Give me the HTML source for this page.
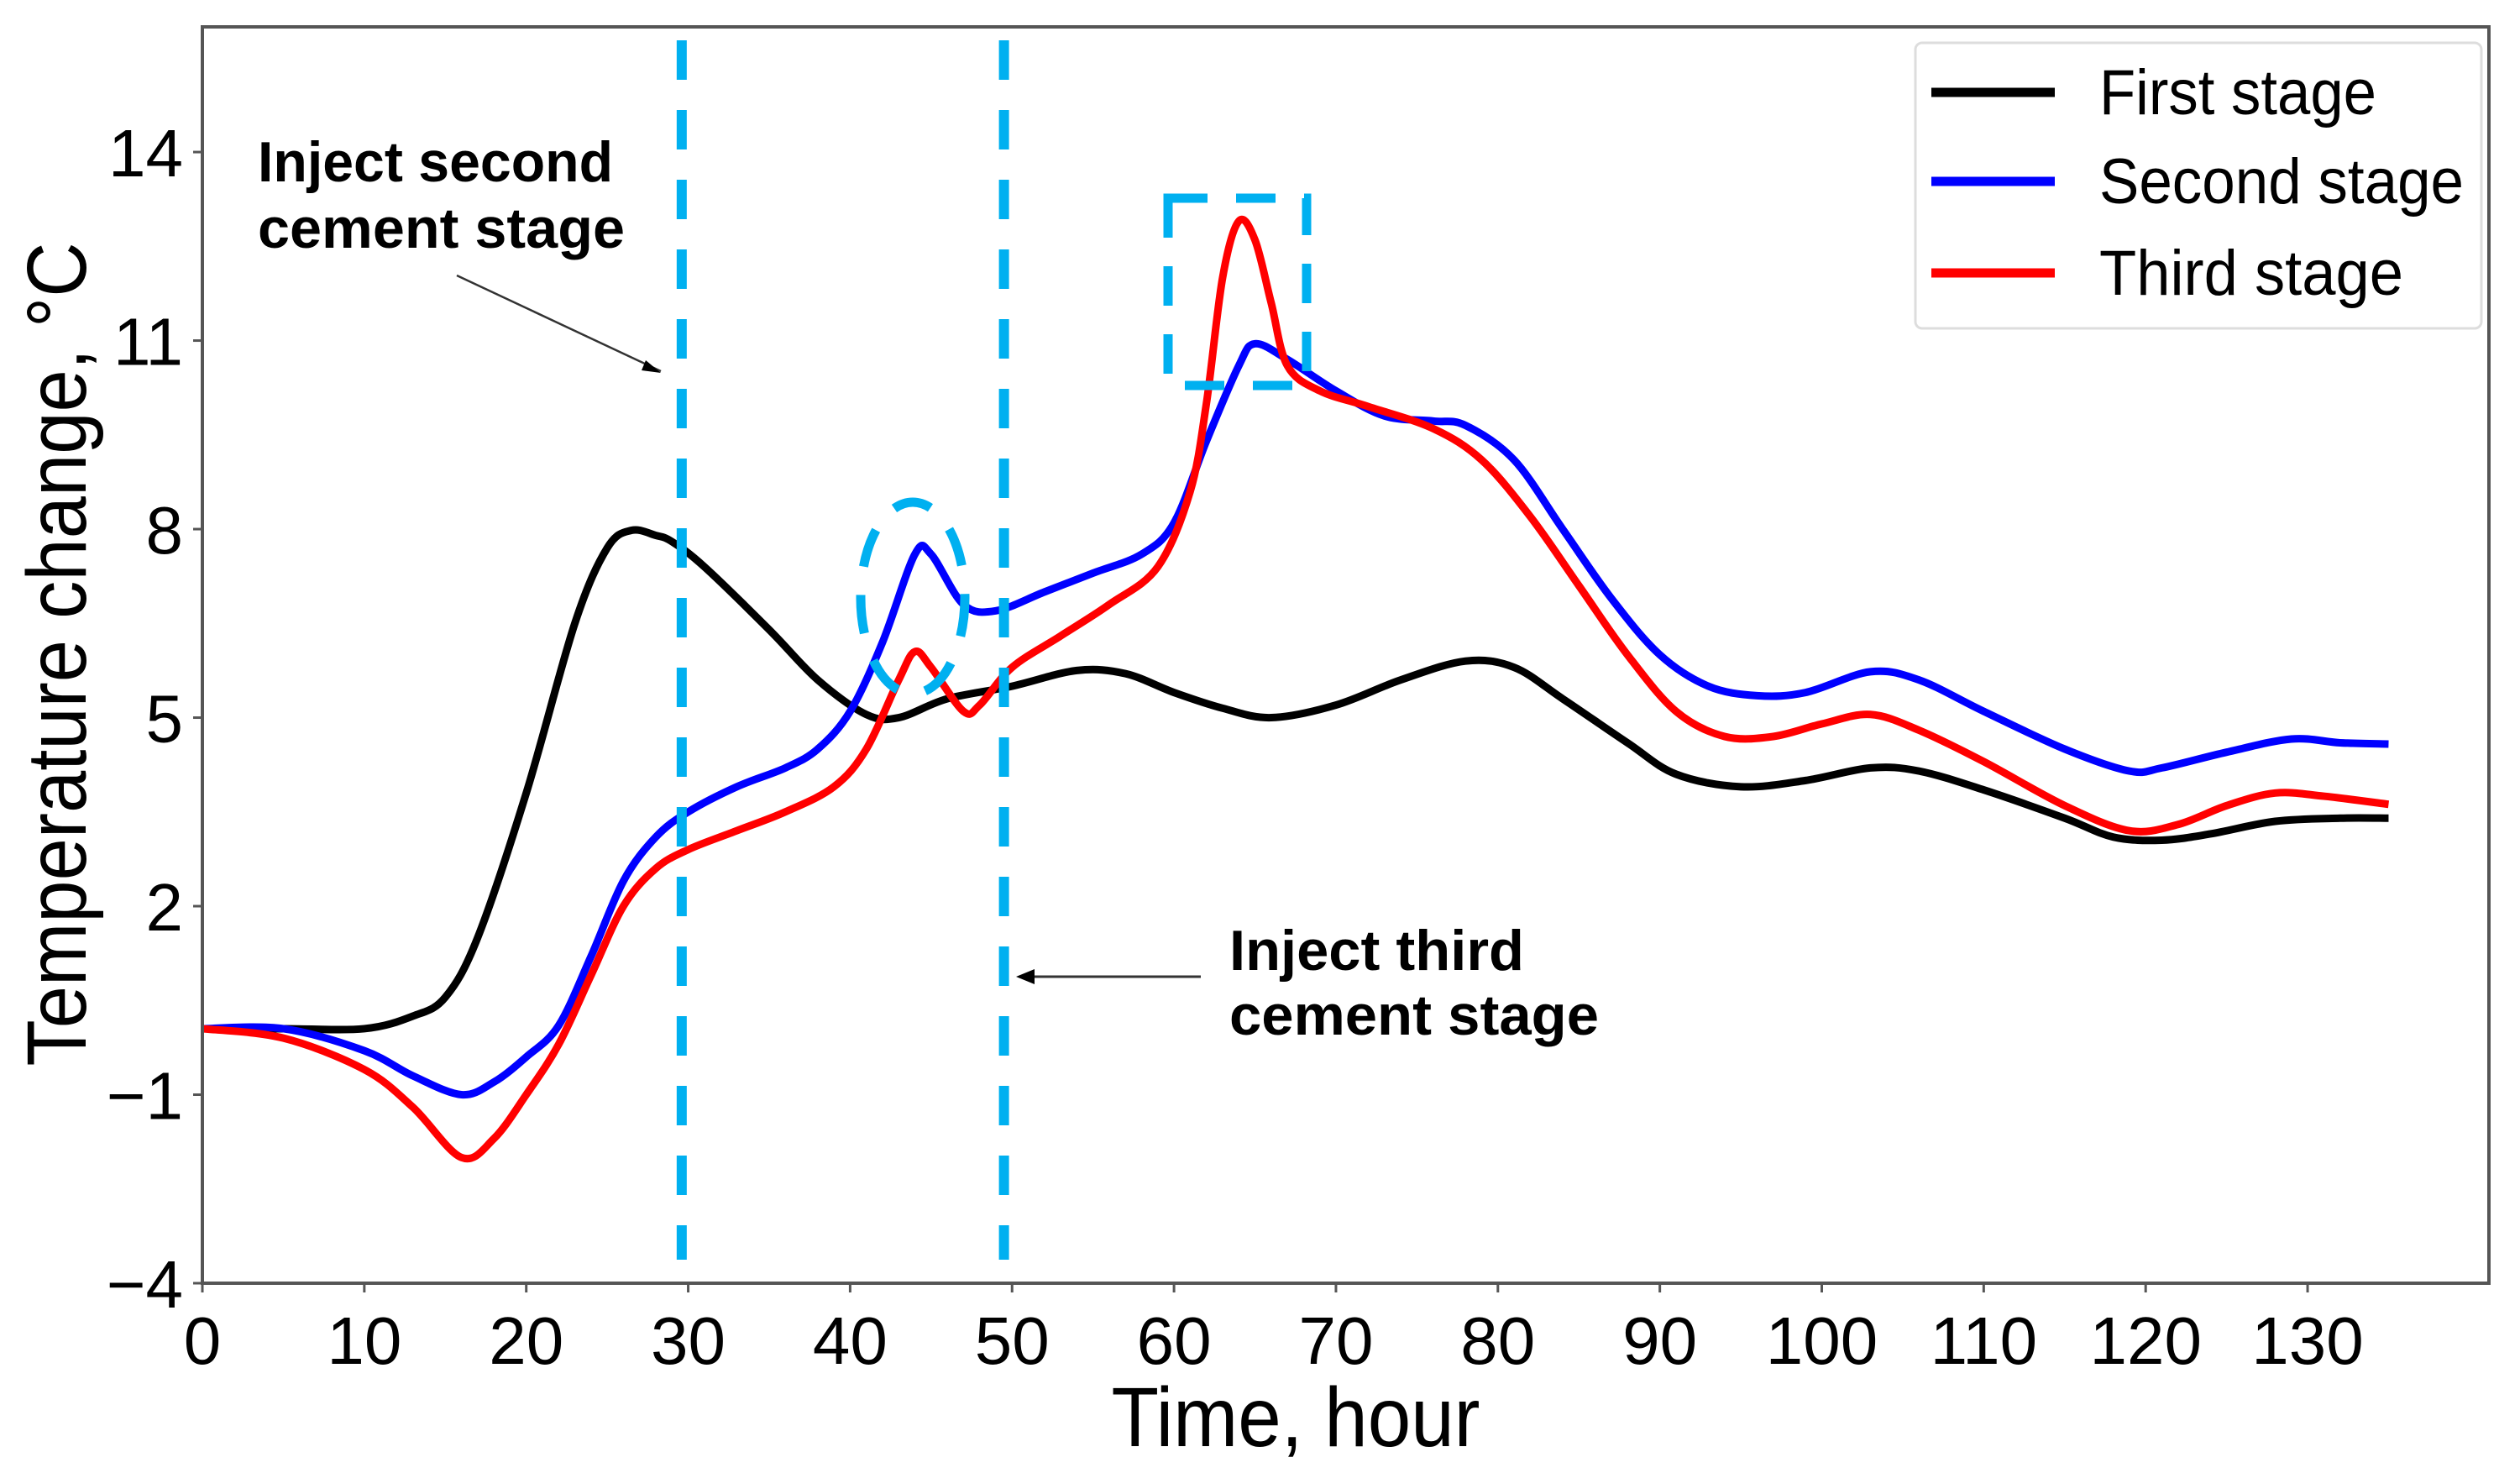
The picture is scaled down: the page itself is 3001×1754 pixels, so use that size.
<!DOCTYPE html>
<html><head><meta charset="utf-8"><style>
html,body{margin:0;padding:0;background:#fff;}
svg{display:block;}
text{font-family:"Liberation Sans",sans-serif;fill:#000;}
</style></head><body>
<svg id="chart" width="3001" height="1754" viewBox="0 0 3001 1754" xmlns="http://www.w3.org/2000/svg">
<g id="plot"></g>
</svg>
<script>
const xTicks=[0,10,20,30,40,50,60,70,80,90,100,110,120,130];
const yTicks=[-4,-1,2,5,8,11,14];
const firstT=[0,5,10,13,15,17,20,23,25,26.5,28,29,31,35,38,41,43,46,50,54,57,60,63,66,70,74,78,81,84,88,91,95,99,103,106,110,115,118,121,124,128,132,135];
const firstV=[0.05,0.05,0.05,0.25,0.55,1.5,3.8,6.5,7.7,7.98,7.9,7.8,7.4,6.4,5.6,5.05,5.0,5.3,5.5,5.75,5.7,5.4,5.15,5.0,5.2,5.6,5.9,5.8,5.3,4.6,4.1,3.9,4.0,4.2,4.15,3.85,3.4,3.1,3.05,3.15,3.35,3.4,3.4];
const secondT=[0,5,10,13,16,18,20,22,24,26,28,30,33,36,38,40,42,44,45,47,49,52,55,58,60,62,64,65,67,70,73,76,78,81,84,87,90,93,96,99,103,106,110,115,119,121,125,129,132,135];
const secondV=[0.05,0.05,-0.3,-0.7,-1.0,-0.8,-0.4,0.1,1.2,2.4,3.1,3.5,3.9,4.2,4.5,5.1,6.2,7.6,7.6,6.8,6.7,7.0,7.3,7.6,8.1,9.4,10.6,10.95,10.7,10.2,9.8,9.72,9.65,9.1,8.0,6.9,6.0,5.5,5.35,5.4,5.73,5.6,5.1,4.5,4.15,4.2,4.45,4.66,4.6,4.58];
const thirdT=[0,5,10,13,16,18,20,22,24,26,28,30,33,36,39,41,43,44,45,47,48,50,53,56,59,61,62,63,64,65,66,67,69,72,76,79,82,85,88,91,94,97,100,103,106,110,115,119,122,125,128,131,135];
const thirdV=[0.05,-0.1,-0.6,-1.2,-2.0,-1.7,-1.0,-0.2,0.9,2.0,2.6,2.9,3.2,3.5,3.9,4.5,5.6,6.05,5.8,5.1,5.2,5.8,6.3,6.8,7.4,8.6,10.0,12.0,12.9,12.6,11.6,10.6,10.2,9.95,9.6,9.1,8.2,7.1,6.0,5.1,4.7,4.7,4.9,5.05,4.8,4.3,3.6,3.2,3.3,3.6,3.8,3.75,3.62];
const vlineX=[29.6,49.5];

const NS="http://www.w3.org/2000/svg";
const svg=document.getElementById('chart');
const L=241,R=2964,T=32,B=1528;
const xs=v=>L+v*19.285;
const ys=v=>1528-(v+4)*74.83;
function mk(tag,attrs,parent){const e=document.createElementNS(NS,tag);for(const k in attrs)e.setAttribute(k,attrs[k]);(parent||svg).appendChild(e);return e;}
function smooth(T,V){const p=T.map((t,i)=>[xs(t),ys(V[i])]);let d='M'+p[0][0]+','+p[0][1];
 for(let i=0;i<p.length-1;i++){const p0=p[Math.max(0,i-1)],p1=p[i],p2=p[i+1],p3=p[Math.min(p.length-1,i+2)];
 const c1=[p1[0]+(p2[0]-p0[0])/6,p1[1]+(p2[1]-p0[1])/6],c2=[p2[0]-(p3[0]-p1[0])/6,p2[1]-(p3[1]-p1[1])/6];
 d+=' C'+c1[0]+','+c1[1]+' '+c2[0]+','+c2[1]+' '+p2[0]+','+p2[1];}return d;}

const s1=mk('path',{d:smooth(firstT,firstV),fill:'none',stroke:'#000','stroke-width':9,'stroke-linejoin':'round'});


const s2=mk('path',{d:smooth(secondT,secondV),fill:'none',stroke:'#0000ff','stroke-width':9,'stroke-linejoin':'round'});


const s3=mk('path',{d:smooth(thirdT,thirdV),fill:'none',stroke:'#ff0000','stroke-width':9,'stroke-linejoin':'round'});



vlineX.forEach((v,i)=>{const l=mk('line',{x1:xs(v),x2:xs(v),y1:48,y2:1500,stroke:'#00b0f0','stroke-width':12,'stroke-dasharray':'47 36'});

});

const el=mk('ellipse',{cx:1087,cy:712,rx:62,ry:114,fill:'none',stroke:'#00b0f0','stroke-width':11,'stroke-dasharray':'46 34'});


const rc=mk('rect',{x:1391,y:236,width:165,height:223,fill:'none',stroke:'#00b0f0','stroke-width':11,'stroke-dasharray':'47 34'});



const fr=mk('rect',{x:L,y:T,width:R-L,height:B-T,fill:'none',stroke:'#555','stroke-width':4});


xTicks.forEach(v=>{const t=mk('line',{x1:xs(v),x2:xs(v),y1:B,y2:B+11,stroke:'#555','stroke-width':3});


const tx=mk('text',{x:xs(v),y:1624,'font-size':80,'text-anchor':'middle'});tx.textContent=v;

});
yTicks.forEach(v=>{const t=mk('line',{x1:L-11,x2:L,y1:ys(v),y2:ys(v),stroke:'#555','stroke-width':3});


const tx=mk('text',{x:218,y:ys(v)+29,'font-size':80,'text-anchor':'end'});tx.textContent=v<0?'\u2212'+(-v):v;

});
</script>
<svg width="3001" height="1754" style="position:absolute;left:0;top:0" xmlns="http://www.w3.org/2000/svg">
<text x="1543" y="1722" font-size="100" text-anchor="middle" textLength="439" lengthAdjust="spacingAndGlyphs">Time, hour</text>
<text transform="translate(102,779) rotate(-90)" x="0" y="0" font-size="100" text-anchor="middle" textLength="981" lengthAdjust="spacingAndGlyphs">Temperature change, °C</text>
<g>
<text x="307" y="216" font-size="68" font-weight="bold" textLength="423" lengthAdjust="spacingAndGlyphs">Inject second</text>
<text x="307" y="295" font-size="68" font-weight="bold" textLength="437" lengthAdjust="spacingAndGlyphs">cement stage</text>
<line x1="544" y1="328" x2="787" y2="442" stroke="#333" stroke-width="2.5"/>
<path d="M787,444 L769,429 L764,441 z" fill="#000"/>
</g>
<g>
<text x="1464" y="1155" font-size="68" font-weight="bold" textLength="351" lengthAdjust="spacingAndGlyphs">Inject third</text>
<text x="1464" y="1232" font-size="68" font-weight="bold" textLength="440" lengthAdjust="spacingAndGlyphs">cement stage</text>
<line x1="1430" y1="1163" x2="1225" y2="1163" stroke="#333" stroke-width="3"/>
<path d="M1210,1163 L1232,1154 L1232,1172 z" fill="#000"/>
</g>
<g>
<rect x="2281" y="51" width="674" height="340" rx="8" fill="#fff" stroke="#ddd" stroke-width="3"/>
<line x1="2300" y1="110" x2="2447" y2="110" stroke="#000" stroke-width="11"/>
<text x="2500" y="136" font-size="76" textLength="330" lengthAdjust="spacingAndGlyphs">First stage</text>
<line x1="2300" y1="216" x2="2447" y2="216" stroke="#0000ff" stroke-width="11"/>
<text x="2500" y="242" font-size="76" textLength="434" lengthAdjust="spacingAndGlyphs">Second stage</text>
<line x1="2300" y1="325" x2="2447" y2="325" stroke="#ff0000" stroke-width="11"/>
<text x="2500" y="351" font-size="76" textLength="362" lengthAdjust="spacingAndGlyphs">Third stage</text>
</g>
</svg>
</body></html>
